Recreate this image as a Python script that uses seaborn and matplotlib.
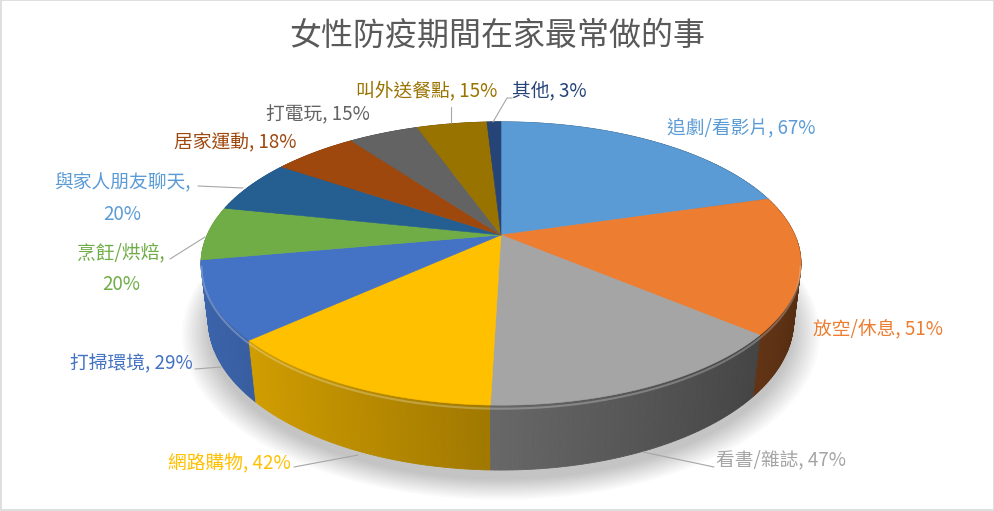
import numpy as np
import matplotlib
matplotlib.use("Agg")
import matplotlib.pyplot as plt
from matplotlib.patches import Polygon, Rectangle
import seaborn as sns

# ---------------- data ----------------
title = "女性防疫期間在家最常做的事"
categories = ["追劇/看影片", "放空/休息", "看書/雜誌", "網路購物", "打掃環境",
              "烹飪/烘焙", "與家人朋友聊天", "居家運動", "打電玩", "叫外送餐點", "其他"]
values = [67, 51, 47, 42, 29, 20, 20, 18, 15, 15, 3]
slice_colors = ["#5B9BD5", "#ED7D31", "#A5A5A5", "#FFC000", "#4472C4", "#70AD47",
                "#255E91", "#9E480E", "#636363", "#997300", "#264478"]
label_colors = ["#5B9BD5", "#ED7D31", "#A5A5A5", "#FFC000", "#4472C4", "#70AD47",
                "#5B9BD5", "#9E480E", "#636363", "#997300", "#264478"]

# ---------------- layout ----------------
# label anchor: (x, y, ha, two_line)
label_layout = [
    (667, 128, "left", False),
    (813, 329, "left", False),
    (716, 460, "left", False),
    (291, 463, "right", False),
    (193, 364, "right", False),
    (121, 253, "center", True),
    (122, 182, "center", True),
    (297, 143, "right", False),
    (370, 115, "right", False),
    (497, 91, "right", False),
    (512, 91, "left", False),
]
leaders = [
    None,
    None,
    [(643, 452), (714, 467)],
    [(294, 467), (358, 455)],
    [(195, 369), (221, 367)],
    [(170, 259), (205, 237)],
    [(198, 186), (243, 188)],
    None,
    None,
    [(451, 107), (451, 123)],
    [(493, 122), (507, 98), (512, 98)],
]

sns.set_theme(style="white")
plt.rcParams["font.family"] = ["Noto Sans CJK TC", "DejaVu Sans"]

palette = sns.color_palette(slice_colors)

fig = plt.figure(figsize=(9.94, 5.11), dpi=100)
ax = fig.add_axes([0, 0, 1, 1])
ax.set_xlim(0, 994)
ax.set_ylim(511, 0)
ax.axis("off")

# perspective projection parameters
E = np.deg2rad(28.0)
D = 4.39
F = 1271.0
SX = 1.015
CX, CY = 501.0, 235.0
H = 0.225


def proj(r, theta, z):
    X = r * np.sin(theta)
    Y = r * np.cos(theta)
    depth = D + Y * np.cos(E) - z * np.sin(E)
    yv = Y * np.sin(E) + z * np.cos(E)
    return CX + SX * F * X / depth, CY - F * yv / depth, depth


vals = np.array(values, dtype=float)
bounds = np.concatenate([[0], np.cumsum(vals)]) / vals.sum() * 2 * np.pi

# soft shadow
for i in range(12):
    t = np.linspace(0, 2 * np.pi, 200)
    sx, sy, _ = proj(1.0 + 0.008 * i, t, -H - 0.02)
    ax.add_patch(Polygon(np.column_stack([sx, sy + 4]), closed=True,
                         facecolor="black", alpha=0.018, edgecolor="none", zorder=1))

# side walls (painter's algorithm)
walls = []
for i, c in enumerate(palette):
    a0, a1 = bounds[i], bounds[i + 1]
    n = max(2, int(np.degrees(a1 - a0) / 0.7))
    ts = np.linspace(a0, a1, n + 1)
    for t0, t1 in zip(ts[:-1], ts[1:]):
        tm = 0.5 * (t0 + t1)
        x0, y0, _ = proj(1, t0, 0)
        x1, y1, _ = proj(1, t1, 0)
        x2, y2, _ = proj(1, t1, -H)
        x3, y3, _ = proj(1, t0, -H)
        _, _, dep = proj(1, tm, 0)
        shade = np.clip(0.62 - 0.27 * np.sin(tm), 0.3, 0.95)
        col = tuple(np.array(c) * shade)
        walls.append((dep, [(x0, y0), (x1, y1), (x2, y2), (x3, y3)], col))
walls.sort(key=lambda w: -w[0])
for dep, pts, col in walls:
    ax.add_patch(Polygon(pts, closed=True, facecolor=col, edgecolor=col,
                         linewidth=0.6, zorder=2))

# top faces
for i, c in enumerate(palette):
    a0, a1 = bounds[i], bounds[i + 1]
    ts = np.linspace(a0, a1, max(3, int(np.degrees(a1 - a0) * 2)))
    ax_, ay_, _ = proj(1, ts, 0)
    pts = [(CX, CY)] + list(zip(ax_, ay_))
    ax.add_patch(Polygon(pts, closed=True, facecolor=c, edgecolor=c,
                         linewidth=0.4, zorder=3))

# subtle bevel highlight along the front top edge
tt = np.linspace(np.deg2rad(101.6), np.deg2rad(258.4), 200)
hx, hy, _ = proj(1, tt, -0.012)
ax.plot(hx, hy, color="white", alpha=0.25, lw=1.5, zorder=4)

# labels
FS = 13.5
for i, cat in enumerate(categories):
    x, y, ha, two = label_layout[i]
    txt = f"{cat}, {values[i]}%"
    if two:
        ax.text(x, y, f"{cat},", ha="center", va="center", fontsize=FS,
                color=label_colors[i], zorder=6)
        ax.text(x, y + 32, f"{values[i]}%", ha="center", va="center", fontsize=FS,
                color=label_colors[i], zorder=6)
    else:
        ax.text(x, y, txt, ha=ha, va="center", fontsize=FS,
                color=label_colors[i], zorder=6)
    if leaders[i] is not None:
        lx, ly = zip(*leaders[i])
        ax.plot(lx, ly, color="#A6A6A6", lw=0.8, zorder=5)

ax.text(497, 36, title, ha="center", va="center", fontsize=23, color="#595959", zorder=6)

ax.add_patch(Rectangle((0.5, 0.5), 993, 510, fill=False, edgecolor="#D9D9D9", lw=1.2, zorder=7))

fig.savefig("out.png", dpi=100)
